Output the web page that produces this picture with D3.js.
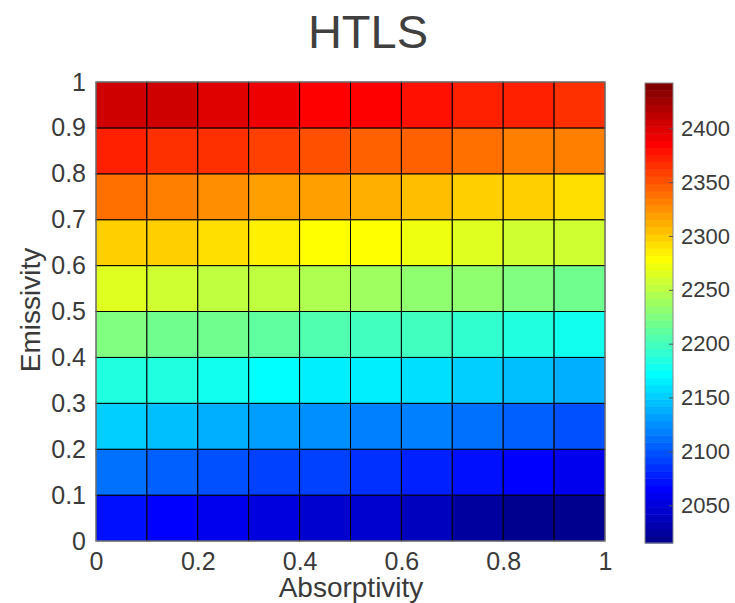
<!DOCTYPE html>
<html>
<head>
<meta charset="utf-8">
<script src="https://cdn.jsdelivr.net/npm/d3@7"></script>
<style>
  body { margin: 0; background: #fff; }
  text { font-family: "Liberation Sans", Arial, sans-serif; fill: #3a3a3a; }
</style>
</head>
<body>
<div class="chart"></div>
<script>
// grid edges (11 points each way, pcolor style)
var absorptivity = [0, 0.1, 0.2, 0.3, 0.4, 0.5, 0.6, 0.7, 0.8, 0.9, 1];
var emissivity = [0, 0.1, 0.2, 0.3, 0.4, 0.5, 0.6, 0.7, 0.8, 0.9, 1];

// cell values, one row per emissivity band, bottom (0) to top (0.9)
var row00 = [2072, 2065, 2058, 2052, 2045, 2045, 2038, 2025, 2018, 2018];
var row01 = [2112, 2105, 2098, 2092, 2092, 2085, 2078, 2072, 2065, 2058];
var row02 = [2152, 2145, 2139, 2132, 2125, 2118, 2118, 2112, 2105, 2098];
var row03 = [2185, 2185, 2179, 2172, 2165, 2165, 2159, 2152, 2145, 2139];
var row04 = [2225, 2219, 2219, 2212, 2205, 2199, 2199, 2192, 2185, 2179];
var row05 = [2265, 2259, 2252, 2252, 2245, 2239, 2232, 2232, 2225, 2219];
var row06 = [2299, 2299, 2292, 2285, 2279, 2279, 2272, 2265, 2259, 2259];
var row07 = [2339, 2332, 2325, 2319, 2319, 2312, 2305, 2299, 2299, 2292];
var row08 = [2372, 2365, 2365, 2359, 2352, 2345, 2345, 2339, 2332, 2332];
var row09 = [2405, 2405, 2399, 2392, 2385, 2385, 2379, 2372, 2372, 2365];
var rows = [row00, row01, row02, row03, row04, row05, row06, row07, row08, row09];

var xTicks = [0, 0.2, 0.4, 0.6, 0.8, 1];
var yTicks = [0, 0.1, 0.2, 0.3, 0.4, 0.5, 0.6, 0.7, 0.8, 0.9, 1];
var cbTicks = [2050, 2100, 2150, 2200, 2250, 2300, 2350, 2400];
var cLimits = [2015, 2442];

// matlab jet(64)
function jet64() {
  var m = 64, n = 16, u = [];
  for (var i = 1; i <= n; i++) u.push(i / n);
  for (var i = 1; i < n; i++) u.push(1);
  for (var i = n; i >= 1; i--) u.push(i / n);
  var out = [];
  for (var k = 1; k <= m; k++) {
    var gi = k - 8, ri = k - 24, bi = k + 8;
    var g = (gi >= 1 && gi <= u.length) ? u[gi - 1] : 0;
    var r = (ri >= 1 && ri <= u.length) ? u[ri - 1] : 0;
    var b = (bi >= 1 && bi <= u.length) ? u[bi - 1] : 0;
    out.push(d3.rgb(r * 255, g * 255, b * 255).toString());
  }
  return out;
}
var jet = jet64();
var color = d3.scaleQuantize().domain(cLimits).range(jet);

var W = 735, H = 603;
var svg = d3.select('.chart').append('svg')
  .attr('width', W).attr('height', H);

var plot = { left: 96, top: 82, right: 605, bottom: 541 };

var x = d3.scaleLinear().domain([0, 1]).range([plot.left, plot.right]);
var y = d3.scaleLinear().domain([0, 1]).range([plot.bottom, plot.top]);

var cells = [];
rows.forEach(function(r, j) {
  r.forEach(function(v, i) {
    cells.push({ a0: absorptivity[i], a1: absorptivity[i + 1], e0: emissivity[j], e1: emissivity[j + 1], v: v });
  });
});

svg.append('g').selectAll('rect')
  .data(cells)
  .enter()
  .append('rect')
  .attr('x', d => x(d.a0))
  .attr('y', d => y(d.e1))
  .attr('width', d => x(d.a1) - x(d.a0))
  .attr('height', d => y(d.e0) - y(d.e1))
  .style('fill', d => color(d.v))
  .style('stroke', '#000')
  .style('stroke-width', 1);

// axes box
svg.append('rect')
  .attr('x', plot.left).attr('y', plot.top)
  .attr('width', plot.right - plot.left).attr('height', plot.bottom - plot.top)
  .style('fill', 'none').style('stroke', '#999').style('stroke-width', 1);

var xAxis = svg.append('g')
  .attr('transform', 'translate(0,' + plot.bottom + ')')
  .call(d3.axisBottom(x).tickValues(xTicks).tickFormat(d3.format('')).tickSize(0).tickPadding(11));
var yAxis = svg.append('g')
  .attr('transform', 'translate(' + plot.left + ',0)')
  .call(d3.axisLeft(y).tickValues(yTicks).tickFormat(d3.format('')).tickSize(0).tickPadding(10));
[xAxis, yAxis].forEach(function(g) {
  g.select('.domain').remove();
  g.selectAll('text').style('font-size', '25px').style('fill', '#3a3a3a');
});

svg.append('text')
  .attr('x', 368)
  .attr('y', 48)
  .style('text-anchor', 'middle')
  .style('font-size', '47px')
  .style('fill', '#404040')
  .text('HTLS');

svg.append('text')
  .attr('x', 351)
  .attr('y', 597)
  .style('text-anchor', 'middle')
  .style('font-size', '28px')
  .text('Absorptivity');

svg.append('text')
  .attr('transform', 'translate(40,310) rotate(-90)')
  .style('text-anchor', 'middle')
  .style('font-size', '28px')
  .text('Emissivity');

// colorbar
var cb = { left: 645, right: 673, top: 83, bottom: 543 };
var cy = d3.scaleLinear().domain(cLimits).range([cb.bottom, cb.top]);
var step = (cLimits[1] - cLimits[0]) / jet.length;
svg.append('g').selectAll('rect')
  .data(jet)
  .enter()
  .append('rect')
  .attr('x', cb.left)
  .attr('width', cb.right - cb.left)
  .attr('y', (d, i) => cy(cLimits[0] + (i + 1) * step))
  .attr('height', (d, i) => cy(cLimits[0] + i * step) - cy(cLimits[0] + (i + 1) * step) + 0.5)
  .style('fill', d => d);

svg.append('rect')
  .attr('x', cb.left).attr('y', cb.top)
  .attr('width', cb.right - cb.left).attr('height', cb.bottom - cb.top)
  .style('fill', 'none').style('stroke', '#888').style('stroke-width', 1);

var cAxis = svg.append('g')
  .attr('transform', 'translate(' + cb.right + ',0)')
  .call(d3.axisRight(cy).tickValues(cbTicks).tickFormat(d3.format('d')).tickSizeInner(-4).tickSizeOuter(0).tickPadding(8));
cAxis.select('.domain').remove();
cAxis.selectAll('line').style('stroke', '#555');
cAxis.selectAll('text').style('font-size', '22px').style('fill', '#3a3a3a');
</script>
</body>
</html>
